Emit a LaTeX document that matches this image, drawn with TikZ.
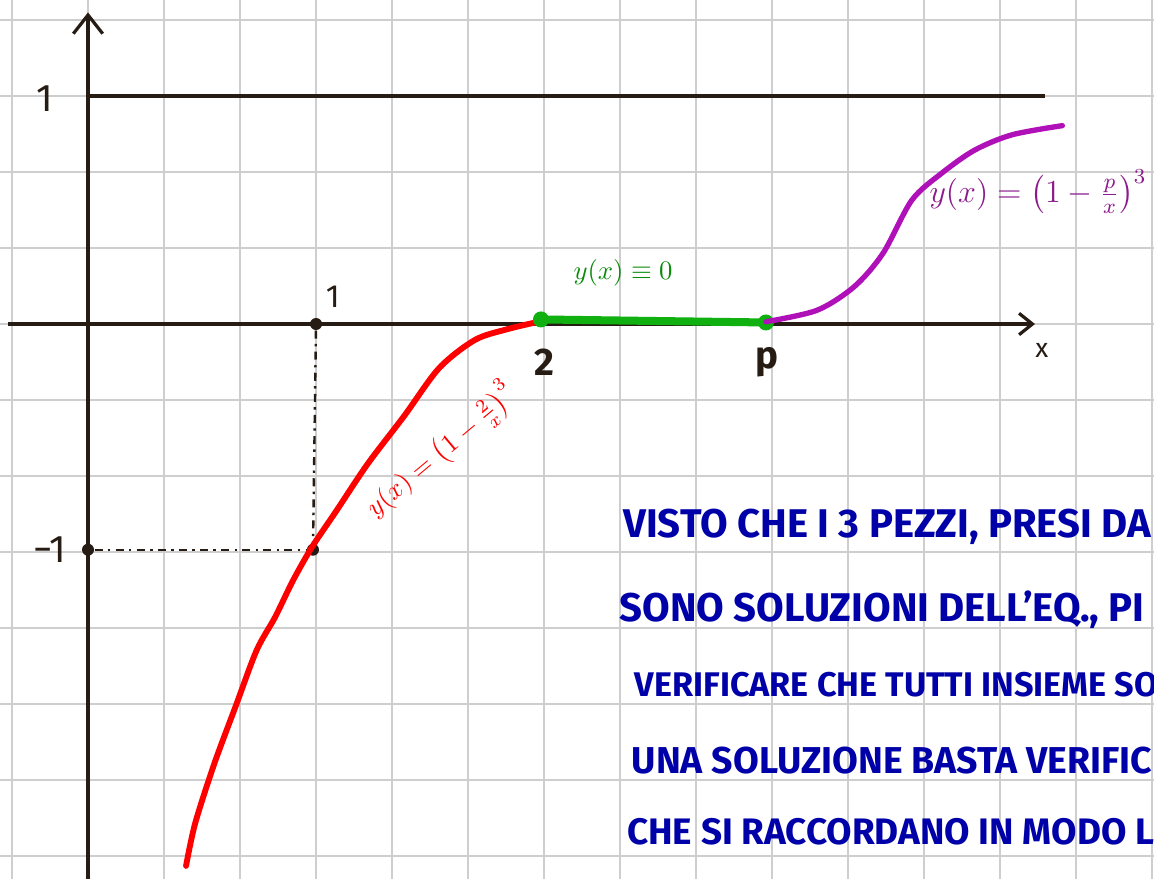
\documentclass[tikz,border=0pt]{standalone}
\usepackage{fontspec}
\setmainfont{Fira Sans}
\usepackage{amsmath}
\usetikzlibrary{arrows.meta, positioning, calc}
\definecolor{inkbrown}{RGB}{38, 28, 20}
\definecolor{gridgray}{RGB}{206, 206, 206}
\definecolor{curvered}{RGB}{255, 0, 0}
\definecolor{zerogreen}{RGB}{16, 176, 16}
\definecolor{labelgreen}{RGB}{10, 140, 10}
\definecolor{curvepurple}{RGB}{176, 16, 184}
\definecolor{labelpurple}{RGB}{140, 26, 140}
\definecolor{inkblue}{RGB}{0, 0, 168}
\begin{document}
\begin{tikzpicture}
            \useasboundingbox (-1.158,-7.29) rectangle (14.026,4.263);
            \fill[white] (-1.158,-7.29) rectangle (14.026,4.263);
            \clip (-1.158,-7.29) rectangle (14.026,4.263);
            \draw[gridgray, line width=0.75pt] (-2,-8) grid (15,5);
            \coordinate (ybot) at (0,-7.4);
            \coordinate (ytop) at (0,4.1);
            \coordinate (xleft) at (-1.05,0);
            \coordinate (xright) at (12.46,0);
            \draw[inkbrown, line width=1.2pt, -{Straight Barb[length=7pt,width=11pt]}] (ybot) -- (ytop);
            \draw[inkbrown, line width=1.2pt, -{Straight Barb[length=5pt,width=8pt]}] (xleft) -- (xright);
            \coordinate (onestart) at (0,3.0);
            \coordinate (oneend) at (12.59,3.0);
            \draw[inkbrown, line width=1.2pt] (onestart) -- (oneend);
            \node[inkbrown, font=\Large] (yone) at (-0.57,2.97) {1};
            \node[inkbrown, font=\Large] (ymone) at (-0.5,-2.97) {−1};
            \node[inkbrown, font=\large] (xonelabel) at (3.22,0.36) {1};
            \node[inkbrown, font=\Large\bfseries] (xtwo) at (6.0,-0.5) {2};
            \node[inkbrown, font=\Large\bfseries] (xp) at (8.93,-0.5) {p};
            \node[inkbrown, font=\normalsize] (xname) at (12.55,-0.35) {x};
            \node[circle, fill=inkbrown, inner sep=0pt, minimum size=4.5pt] (xonedot) at (3,0) {};
            \node[circle, fill=inkbrown, inner sep=0pt, minimum size=4.5pt] (ptdot) at (2.96,-2.97) {};
            \node[circle, fill=inkbrown, inner sep=0pt, minimum size=4.5pt] (ymonedot) at (0,-2.97) {};
            \draw[inkbrown, line width=0.9pt, dash dot] (xonedot) -- (ptdot);
            \draw[inkbrown, line width=0.9pt, dash dot] (ymonedot) -- (ptdot);
            \draw[curvered, line width=2.2pt, line cap=round] plot[smooth] coordinates {
                (1.29,-7.13) (1.41,-6.57) (1.66,-5.79) (1.95,-5.01) (2.22,-4.29) (2.46,-3.86)
                (2.70,-3.37) (2.95,-2.93) (3.26,-2.47) (3.68,-1.84) (4.16,-1.21) (4.62,-0.58)
                (5.09,-0.21) (5.51,-0.07) (5.93,0.03)};
            \node[circle, fill=zerogreen, inner sep=0pt, minimum size=6pt] (gtwo) at (5.96,0.06) {};
            \node[circle, fill=zerogreen, inner sep=0pt, minimum size=6pt] (gp) at (8.92,0.02) {};
            \draw[zerogreen, line width=3pt] (gtwo.center) -- (gp.center);
            \draw[curvepurple, line width=2pt, line cap=round] plot[smooth] coordinates {
                (8.92,0.03) (9.59,0.18) (10.08,0.49) (10.46,0.93) (10.84,1.63) (11.24,1.99)
                (11.67,2.29) (12.16,2.49) (12.82,2.61)};
            \node[labelgreen] (zerolabel) at (7.04,0.67) {$y(x)\equiv 0$};
            \node[curvered, rotate=40, font=\normalsize, inner sep=0pt] (redlabel) at (4.64,-1.66) {$y(x)=\left(1-\frac{2}{x}\right)^{3}$};
            \node[labelpurple, font=\fontsize{11.5}{14}\selectfont, inner sep=0pt] (purplelabel) at (12.5,1.74) {$y(x)=\left(1-\frac{p}{x}\right)^{3}$};
            \node[inkblue, anchor=west, font=\fontsize{15}{18}\selectfont\bfseries] (lineone) at (6.92,-2.67) {VISTO CHE I 3 PEZZI, PRESI DA};
            \node[inkblue, anchor=west, font=\fontsize{15}{18}\selectfont\bfseries] (linetwo) at (6.87,-3.76) {SONO SOLUZIONI DELL'EQ., PI};
            \node[inkblue, anchor=west, font=\fontsize{12.8}{18}\selectfont\bfseries] (linethree) at (7.07,-4.75) {VERIFICARE CHE TUTTI INSIEME SO};
            \node[inkblue, anchor=west, font=\fontsize{14}{18}\selectfont\bfseries] (linefour) at (7.03,-5.74) {UNA SOLUZIONE BASTA VERIFIC};
            \node[inkblue, anchor=west, font=\fontsize{13.8}{18}\selectfont\bfseries] (linefive) at (6.97,-6.68) {CHE SI RACCORDANO IN MODO L};
        \end{tikzpicture}
\end{document}
